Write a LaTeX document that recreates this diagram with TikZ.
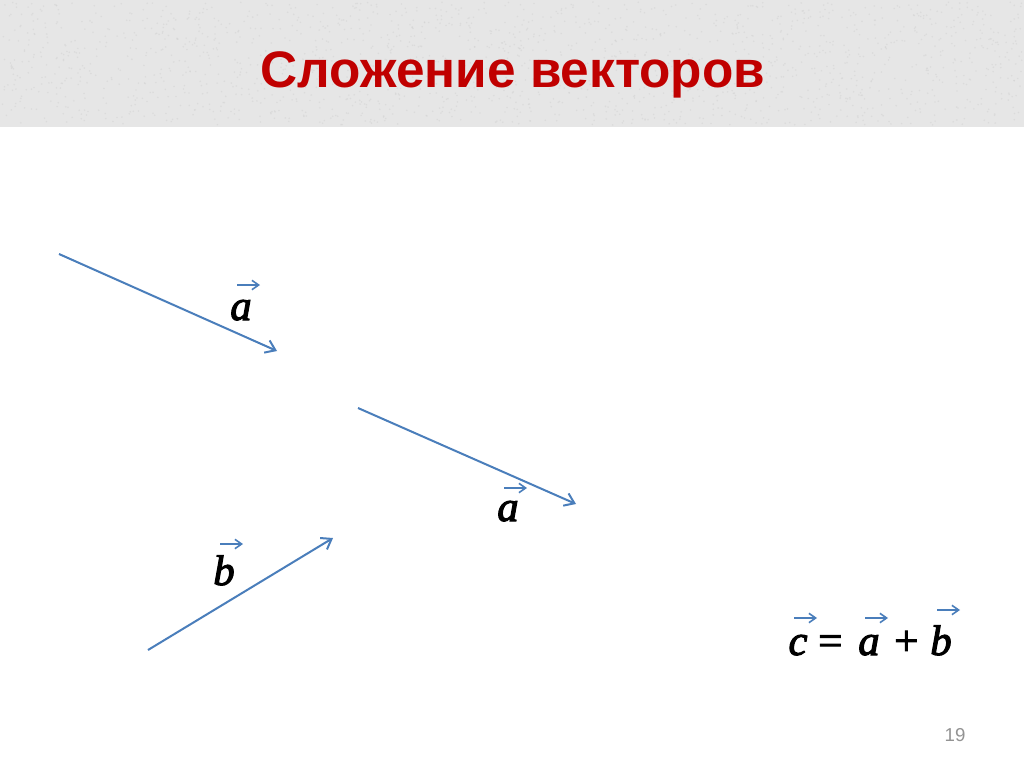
\documentclass[tikz,border=0pt]{standalone}
\usepackage{fontspec}
\setmainfont{Liberation Serif}
\newfontfamily\titlefont{Liberation Sans}
\newfontfamily\letterfont{Liberation Serif}[ItalicFeatures={FakeBold=2.5}]
\usetikzlibrary{arrows.meta}
\definecolor{vecblue}{HTML}{4A7EBB}
\definecolor{titlered}{HTML}{C00000}
\definecolor{bargray}{HTML}{E6E6E6}
\tikzset{vector/.style={draw=vecblue, line width=1.5pt, -{Straight Barb[length=7pt,width=10pt]}},
  vecmark/.style={draw=vecblue, line width=1.2pt, -{Straight Barb[length=5pt,width=7pt]}},
  letter/.style={inner sep=0pt, anchor=base, font=\letterfont\fontsize{32}{36}\selectfont\itshape}}
\newcommand{\vecover}[2][35]{\draw[vecmark] ([shift={(-4,-#1)}]#2.base) -- ++(23,0);}

\begin{document}
\begin{tikzpicture}[x=0.75pt, y=-0.75pt]
\useasboundingbox (0,0) rectangle (1024,767);
\fill[white] (0,0) rectangle (1024,767);
% title bar
\fill[bargray] (0,0) rectangle (1024,127);
\pgfmathsetseed{19}
\foreach \i in {1,...,1800} {
  \pgfmathsetmacro{\px}{rnd*1020+2}
  \pgfmathsetmacro{\py}{rnd*123+2}
  \fill[gray!35, opacity=0.5] (\px,\py) circle (0.9);
}
\node[font=\titlefont\fontsize{38.5}{44}\selectfont\bfseries, text=titlered, anchor=base] (title) at (513,88) {Сложение векторов};
% vectors
\coordinate (a1s) at (59,254);
\coordinate (a1e) at (277,351);
\coordinate (a2s) at (358,408);
\coordinate (a2e) at (576,504);
\coordinate (bs) at (148,650);
\coordinate (be) at (333,538);
\draw[vector] (a1s) -- (a1e);
\draw[vector] (a2s) -- (a2e);
\draw[vector] (bs) -- (be);
% labels
\node[letter] (la1) at (241,320) {a};
\node[letter] (la2) at (508,521) {a};
\node[letter] (lb) at (224,585) {b};
\vecover{la1}
\vecover[33]{la2}
\vecover[41]{lb}
% sum
\node[letter] (ec) at (798,655) {c};
\node[letter] (eeq) at (830,655) {=};
\node[letter] (ea) at (869,655) {a};
\node[letter] (eplus) at (906,655) {+};
\node[letter] (eb) at (941,655) {b};
\vecover[37]{ec}
\vecover[37]{ea}
\vecover[45]{eb}
% page number
\node[font=\titlefont\fontsize{14}{16}\selectfont, text=gray!85, anchor=base] (page) at (955,741) {19};
\end{tikzpicture}
\end{document}
